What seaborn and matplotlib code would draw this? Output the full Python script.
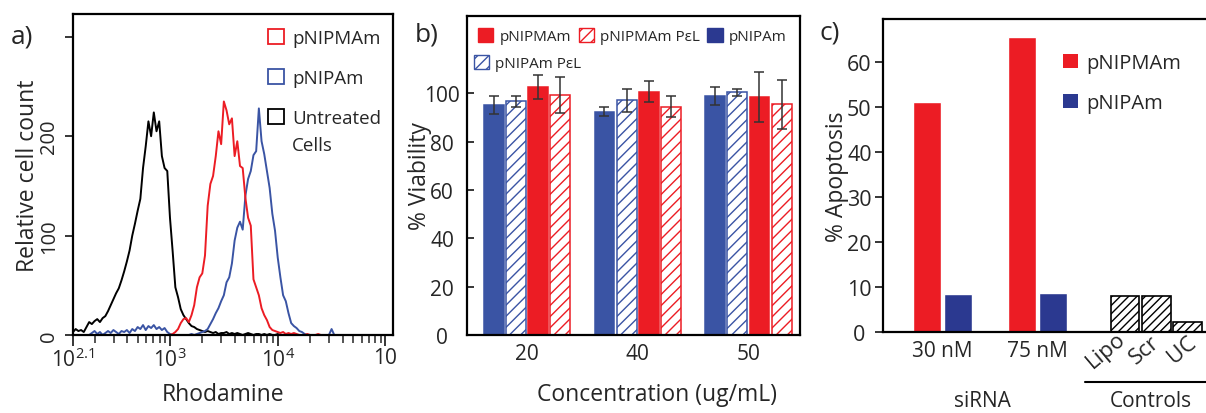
import numpy as np
import pandas as pd
import matplotlib
matplotlib.use("Agg")
import matplotlib.pyplot as plt
import matplotlib.transforms as mtransforms
from matplotlib.patches import Patch
from matplotlib.lines import Line2D
from matplotlib.ticker import LogLocator, NullFormatter
import seaborn as sns

# ------------------------------------------------------------------
# a) flow cytometry histograms: counts per log10(Rhodamine) bin
#    bins start at 10^2.1, one bin every 0.025 decade
hist_start = 2.1
hist_step = 0.025
untreated_counts = [
    3, 6, 4, 5, 3, 8, 13, 11, 14, 16,
    13, 17, 19, 24, 30, 36, 42, 47, 55, 64,
    74, 85, 100, 112, 125, 137, 168, 190, 215, 200,
    224, 205, 215, 180, 168, 165, 118, 84, 48, 38,
    26, 20, 16, 12, 9, 8, 6, 5, 4, 3,
    4, 3, 2, 3, 1, 2, 2, 3, 1, 2,
    1, 2, 1, 0, 1, 2, 1, 0, 1, 1,
    0, 1, 0, 1, 0, 0, 1, 0, 0, 0,
    0, 0, 0, 0, 0, 0, 0, 0, 0, 0,
    0, 0, 0, 0, 0, 0, 0, 0, 0, 0, 0,
]
pnipmam_counts = [
    0, 0, 0, 0, 0, 0, 0, 0, 0, 0,
    0, 0, 0, 0, 0, 0, 0, 0, 0, 0,
    0, 0, 0, 0, 0, 0, 0, 0, 0, 0,
    0, 0, 0, 0, 0, 0, 0, 1, 3, 6,
    12, 16, 17, 13, 20, 30, 48, 58, 62, 80,
    130, 152, 160, 180, 205, 192, 235, 226, 212, 218,
    180, 195, 170, 168, 138, 118, 110, 56, 48, 40,
    27, 20, 15, 8, 5, 4, 3, 2, 3, 1,
    2, 1, 2, 1, 0, 0, 0, 1, 0, 0,
    0, 1, 0, 0, 0, 0, 0, 0, 0, 0, 0,
]
pnipam_counts = [
    0, 0, 0, 0, 0, 0, 0, 2, 4, 1,
    3, 0, 2, 4, 2, 5, 3, 1, 4, 3,
    5, 2, 6, 4, 8, 6, 10, 5, 9, 7,
    10, 6, 8, 5, 7, 3, 1, 0, 0, 0,
    0, 0, 0, 0, 1, 0, 1, 2, 3, 4,
    6, 11, 16, 22, 27, 34, 40, 53, 58, 72,
    95, 108, 114, 106, 140, 157, 165, 181, 185, 228,
    195, 182, 165, 148, 122, 105, 78, 58, 40, 34,
    22, 12, 9, 7, 4, 3, 1, 0, 0, 0,
    0, 0, 0, 0, 0, 0, 6, 0, 0, 0, 0,
]
hist_labels = ["pNIPMAm", "pNIPAm", "Untreated"]

# b) cell viability
concentrations = ["20", "40", "50"]
viab_pnipam = [95.0, 92.4, 98.9]
viab_pnipam_err = [3.7, 1.8, 3.9]
viab_pnipam_pel = [96.7, 97.2, 100.4]
viab_pnipam_pel_err = [2.4, 4.8, 1.4]
viab_pnipmam = [102.5, 100.7, 98.5]
viab_pnipmam_err = [5.0, 4.3, 10.5]
viab_pnipmam_pel = [99.3, 94.5, 95.4]
viab_pnipmam_pel_err = [7.4, 4.2, 10.2]

# c) apoptosis
sirna_doses = ["30 nM", "75 nM"]
apop_pnipmam = [51.2, 65.5]
apop_pnipam = [8.4, 8.7]
control_names = ["Lipo", "Scr", "UC"]
apop_controls = [7.9, 7.9, 2.2]

# ------------------------------------------------------------------
RED = "#ec1c24"
BLUE = "#3a54a4"
NAVY = "#2b3990"

sns.set_style("ticks")
plt.rcParams["font.family"] = ["Open Sans", "DejaVu Sans"]
plt.rcParams["mathtext.fontset"] = "custom"
plt.rcParams["mathtext.rm"] = "Open Sans"
plt.rcParams["mathtext.default"] = "regular"
plt.rcParams["hatch.linewidth"] = 1.0

W, H = 1206, 414
fig = plt.figure(figsize=(W / 100, H / 100), dpi=100)


def px_axes(l, t, r, b):
    return fig.add_axes([l / W, 1 - b / H, (r - l) / W, (b - t) / H])


def frame(ax, sides=("left", "right", "top", "bottom")):
    for s in ("left", "right", "top", "bottom"):
        ax.spines[s].set_visible(s in sides)
        ax.spines[s].set_linewidth(1.6)
        ax.spines[s].set_color("black")


# ---------------------------- panel a ------------------------------
axa = px_axes(73, 15, 393, 336)
log_x = hist_start + hist_step * np.arange(len(untreated_counts))
hist_df = pd.DataFrame({
    "rhodamine": np.tile(10 ** log_x, 3),
    "count": np.concatenate([untreated_counts, pnipam_counts, pnipmam_counts]),
    "sample": np.repeat(["Untreated", "pNIPAm", "pNIPMAm"], len(log_x)),
})
sns.lineplot(data=hist_df, x="rhodamine", y="count", hue="sample",
             palette={"Untreated": "black", "pNIPAm": BLUE, "pNIPMAm": RED},
             estimator=None, linewidth=1.4, legend=False, ax=axa)
axa.set_xscale("log")
axa.set_xlim(10 ** 2.1, 10 ** 5.07)
axa.set_ylim(0, 323)
axa.set_xticks([10 ** 2.1, 1e3, 1e4, 1e5],
               ["$10^{2.1}$", "$10^{3}$", "$10^{4}$", "10"])
axa.xaxis.set_minor_locator(LogLocator(base=10, subs=np.arange(2, 10)))
axa.xaxis.set_minor_formatter(NullFormatter())
axa.set_yticks([0, 100, 200, 300], ["0", "100", "200", ""])
frame(axa)
axa.tick_params(axis="x", which="major", direction="out", length=8, width=1.3,
                labelsize=15, pad=1)
axa.tick_params(axis="x", which="minor", direction="out", length=6, width=1.1)
axa.tick_params(axis="y", direction="out", length=6, width=1.3, labelsize=14.5, pad=11)
for lbl in axa.get_yticklabels():
    lbl.set_rotation(90)
    lbl.set_va("center")
    lbl.set_ha("center")
axa.set_xlabel("Rhodamine", fontsize=16.5)
axa.set_ylabel("Relative cell count", fontsize=16.5)
axa.xaxis.set_label_coords(0.469, -0.146)
axa.yaxis.set_label_coords(-0.103, 0.5)

a_handles = [Patch(facecolor="none", edgecolor=c, linewidth=1.3)
             for c in (RED, BLUE, "black")]
axa.legend(a_handles, hist_labels, loc="upper left",
           bbox_to_anchor=((268 - 73) / 320, 1 - (30 - 15) / 321),
           frameon=False, fontsize=13.5, handlelength=0.85, handleheight=0.85,
           handletextpad=0.45, labelspacing=1.17, borderpad=0, borderaxespad=0)
axa.text((292 - 73) / 320, 1 - (146 - 15) / 321, "Cells", transform=axa.transAxes,
         fontsize=13.5, ha="left", va="center")

# ---------------------------- panel b ------------------------------
axb = px_axes(467, 17, 800, 336)
series_b = ["pNIPAm", "pNIPAm PεL", "pNIPMAm", "pNIPMAm PεL"]
vals_b = [viab_pnipam, viab_pnipam_pel, viab_pnipmam, viab_pnipmam_pel]
errs_b = [viab_pnipam_err, viab_pnipam_pel_err, viab_pnipmam_err, viab_pnipmam_pel_err]
cols_b = [BLUE, BLUE, RED, RED]
hatched_b = [False, True, False, True]
df_b = pd.DataFrame({
    "conc": concentrations * len(series_b),
    "series": np.repeat(series_b, len(concentrations)),
    "viability": np.concatenate(vals_b),
})
sns.barplot(data=df_b, x="conc", y="viability", hue="series", hue_order=series_b,
            palette=cols_b, saturation=1, width=0.8, gap=0.1, errorbar=None,
            legend=False, ax=axb)
for cont, err, col, hat in zip(axb.containers, errs_b, cols_b, hatched_b):
    for bar in cont:
        if hat:
            bar.set_facecolor("white")
            bar.set_hatch("///")
        bar.set_edgecolor(col)
        bar.set_linewidth(1.1)
    xs = [b.get_x() + b.get_width() / 2 for b in cont]
    ys = [b.get_height() for b in cont]
    axb.errorbar(xs, ys, yerr=err, fmt="none", ecolor="#333333", elinewidth=1.1,
                 capsize=3.5, capthick=1.1, zorder=3)
axb.set_xlim(-0.542, 2.466)
axb.set_ylim(0, 132)
axb.set_yticks([0, 20, 40, 60, 80, 100])
frame(axb)
axb.tick_params(axis="y", direction="in", length=5, width=1.3, labelsize=15, pad=18)
for lbl in axb.get_yticklabels():
    lbl.set_ha("center")
axb.tick_params(axis="x", length=0, labelsize=15, pad=6)
axb.set_xlabel("Concentration (ug/mL)", fontsize=16.5)
axb.set_ylabel("% Viability", fontsize=16.5)
axb.xaxis.set_label_coords(0.57, -0.147)
axb.yaxis.set_label_coords(-0.105, 0.5)

b_handles = [Patch(facecolor=RED, edgecolor=RED),
             Patch(facecolor="white", edgecolor=RED, hatch="///"),
             Patch(facecolor=NAVY, edgecolor=NAVY)]
leg_b = axb.legend(b_handles, ["pNIPMAm", "pNIPMAm PεL", "pNIPAm"], ncol=3,
                   loc="upper left", bbox_to_anchor=((478 - 467) / 333, 1 - (29 - 17) / 319),
                   frameon=False, fontsize=11, handlelength=1.0, handleheight=1.0,
                   handletextpad=0.4, columnspacing=0.5, borderpad=0, borderaxespad=0)
axb.add_artist(leg_b)
axb.legend([Patch(facecolor="white", edgecolor=BLUE, hatch="///")], ["pNIPAm PεL"],
           loc="upper left", bbox_to_anchor=((474 - 467) / 333, 1 - (56 - 17) / 319),
           frameon=False, fontsize=11, handlelength=1.0, handleheight=1.0,
           handletextpad=0.4, borderpad=0, borderaxespad=0)

# ---------------------------- panel c ------------------------------
axc = px_axes(883, 20, 1206, 333)
df_c = pd.DataFrame({
    "dose": sirna_doses * 2,
    "polymer": ["pNIPMAm"] * len(sirna_doses) + ["pNIPAm"] * len(sirna_doses),
    "apoptosis": apop_pnipmam + apop_pnipam,
})
sns.barplot(data=df_c, x="dose", y="apoptosis", hue="polymer",
            hue_order=["pNIPMAm", "pNIPAm"], palette=[RED, NAVY], saturation=1,
            width=0.64, gap=0.08, errorbar=None, legend=False, ax=axc)
ctrl_x = 2.25 + 0.33 * (np.arange(len(control_names)) - 1)
sns.barplot(x=ctrl_x, y=apop_controls, native_scale=True, width=0.92, color="white",
            edgecolor="black", linewidth=1.2, hatch="////", saturation=1,
            errorbar=None, ax=axc)
axc.set_xlim(-0.627, 2.773)
axc.set_ylim(0, 69.6)
axc.set_xticks([0, 1], sirna_doses)
axc.set_yticks([0, 10, 20, 30, 40, 50, 60])
frame(axc, sides=("left", "top", "bottom"))
axc.tick_params(axis="y", direction="out", length=6, width=1.3, labelsize=15.5, pad=11)
for lbl in axc.get_yticklabels():
    lbl.set_ha("center")
axc.tick_params(axis="x", length=0, labelsize=15, pad=6)
axc.set_xlabel("")
axc.set_ylabel("% Apoptosis", fontsize=16.5)
axc.yaxis.set_label_coords(-0.105, 0.5)

blend = mtransforms.blended_transform_factory(axc.transData, axc.transAxes)
for x, name, dx in zip(ctrl_x, control_names, [-0.2, -0.12, -0.06]):
    axc.text(x + dx, -0.056, name, transform=blend, rotation=40, fontsize=16,
             ha="center", va="center", rotation_mode="anchor")

c_handles = [Patch(facecolor=RED, edgecolor="none"), Patch(facecolor=NAVY, edgecolor="none")]
axc.legend(c_handles, ["pNIPMAm", "pNIPAm"], loc="upper left",
           bbox_to_anchor=((1063 - 883) / 323, 1 - (54 - 20) / 313),
           frameon=False, fontsize=14.5, handlelength=0.75, handleheight=0.75,
           handletextpad=0.4, labelspacing=1.0, borderpad=0, borderaxespad=0)

fig.text(982 / W, 1 - 402 / H, "siRNA", fontsize=15, ha="center", va="center")
fig.text(1151 / W, 1 - 402 / H, "Controls", fontsize=15, ha="center", va="center")
fig.add_artist(Line2D([1085 / W, 1.0], [1 - 383 / H] * 2, color="black", linewidth=1.5))

# panel letters
fig.text(22 / W, 1 - 37 / H, "a)", fontsize=19, ha="center", va="center")
fig.text(427 / W, 1 - 35 / H, "b)", fontsize=19, ha="center", va="center")
fig.text(830 / W, 1 - 33 / H, "c)", fontsize=19, ha="center", va="center")

fig.savefig("out.png", dpi=100)
